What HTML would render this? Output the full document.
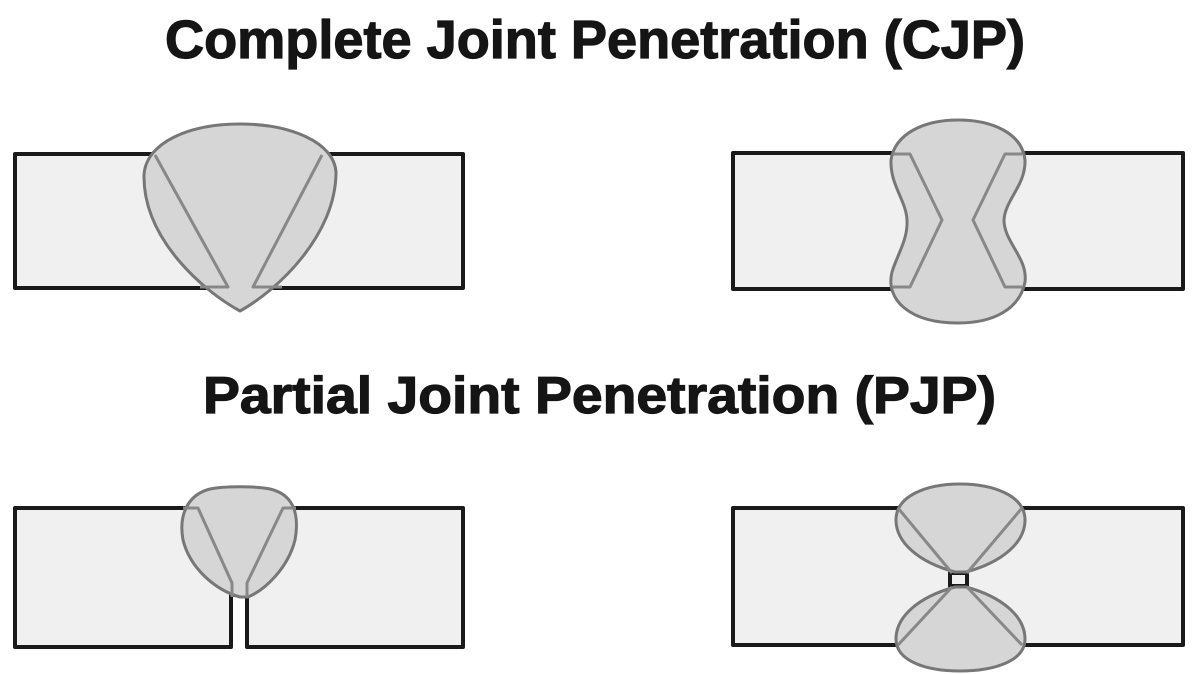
<!DOCTYPE html>
<html><head><meta charset="utf-8"><style>html,body{margin:0;padding:0;background:#fff;}svg{display:block}</style></head>
<body>
<svg width="1200" height="674" viewBox="0 0 1200 674" xmlns="http://www.w3.org/2000/svg">
<g font-family="Liberation Sans, sans-serif" font-weight="bold" fill="#151515" stroke="#151515" stroke-width="1.2">
<text x="165" y="58" font-size="54" textLength="860" lengthAdjust="spacingAndGlyphs">Complete Joint Penetration (CJP)</text>
<text x="203" y="413" font-size="52" textLength="793" lengthAdjust="spacingAndGlyphs">Partial Joint Penetration (PJP)</text>
</g>
<g stroke="#1a1a1a" stroke-width="4" fill="#f0f0f0" stroke-linejoin="round">
<rect x="15" y="154" width="448" height="134"/>
<rect x="733" y="153" width="450" height="136"/>
<path d="M15,508 H463 V647 H247 V595 H231 V647 H15 Z"/>
<rect x="733" y="508" width="450" height="137"/>
<rect x="950" y="573" width="17" height="13"/>
</g>
<g stroke="#777" stroke-width="3" fill="#d6d6d6" stroke-linejoin="round">
<path d="M240,311 C205,292 143,240 144,175 C146,142 190,124 240,124 C290,124 334,142 336,172 C336,235 278,290 240,311 Z"/>
<path d="M958,323 C910,323 885,300 892,272 C897,255 908,240 907,220 C906,200 890,185 891,160 C895,133 925,120 958,120 C992,120 1022,133 1025,160 C1026,185 1005,200 1004,220 C1004,242 1028,258 1025,282 C1020,308 995,323 958,323 Z"/>
<path d="M240,597 C215,590 190,568 183,540 C178,512 190,494 210,489 C225,486 255,486 270,489 C292,494 300,512 295,540 C288,568 265,590 248,597 Z"/>
<path d="M955,572 C918,562 896,542 896,520 C896,495 928,484 960,484 C992,484 1025,495 1025,520 C1025,542 1003,562 966,572 Z"/>
<path d="M955,587 C918,597 896,617 896,639 C896,662 928,671 960,671 C992,671 1025,662 1025,639 C1025,617 1003,597 966,587 Z"/>
</g>
<g stroke="#888" stroke-width="3" fill="none" stroke-linejoin="round">
<path d="M155,155 L228,287 H200"/>
<path d="M322,155 L253,287 H282"/>
<path d="M893,154 H910 L942,220 L910,287 H893"/>
<path d="M1022,154 H1005 L973,220 L1005,287 H1022"/>
<path d="M183,508 H198 L232,583 V597"/>
<path d="M296,508 H283 L247,583 V597"/>
<path d="M898,508 L952,573"/>
<path d="M1022,508 L967,573"/>
<path d="M952,587 L898,645"/>
<path d="M967,587 L1022,645"/>
</g>
</svg>
</body></html>
